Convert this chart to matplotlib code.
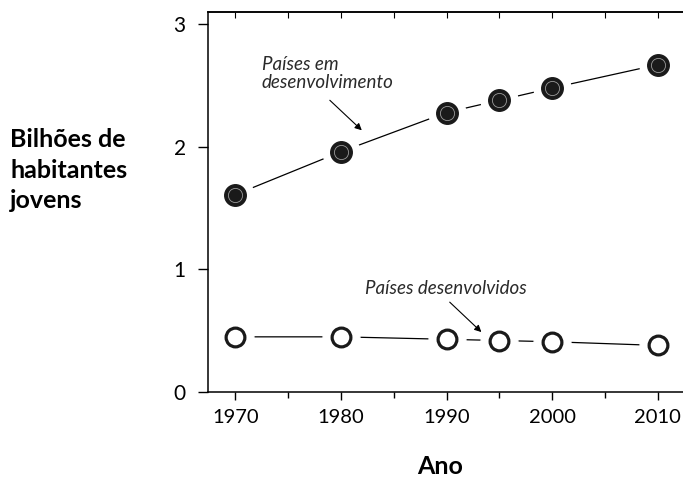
import matplotlib
matplotlib.use("Agg")
import matplotlib.pyplot as plt

years = [1970, 1980, 1990, 1995, 2000, 2010]
developing = [1.61, 1.96, 2.28, 2.38, 2.48, 2.67]
developed = [0.45, 0.45, 0.43, 0.42, 0.41, 0.38]
xtick_labels = ["1970", "1980", "1990", "2000", "2010"]
yticks = [0, 1, 2, 3]

plt.rcParams['font.family'] = ['Lato', 'DejaVu Sans']

fig = plt.figure(figsize=(6.83, 4.78), dpi=100)
ax = fig.add_axes([208/683, (478-392)/478, (683-208)/683, (392-12)/478])

ms = 15.5
ax.plot(years, developing, color='black', lw=0.9, zorder=1)
ax.plot(years, developed, color='black', lw=0.9, zorder=1)
ax.plot(years, developing, 'o', ms=ms + 11, color='white', mec='white', zorder=2)
ax.plot(years, developed, 'o', ms=ms + 11, color='white', mec='white', zorder=2)
ax.plot(years, developing, 'o', ms=ms, color='#1a1a1a', mec='#1a1a1a', zorder=3)
ax.plot(years, developing, 'o', ms=ms * 0.66, mfc='none', mec='#9a9a9a', mew=0.6, zorder=4)
ax.plot(years, developed, 'o', ms=ms - 2, mfc='white', mec='#1a1a1a', mew=2.3, zorder=3)

ax.set_xlim(1967.4, 2012.4)
ax.set_ylim(0, 3.1)
ax.set_xticks([1970, 1980, 1990, 2000, 2010])
ax.set_xticklabels(xtick_labels)
ax.set_xticks([1975, 1985, 1995, 2005], minor=True)
ax.set_yticks(yticks)
ax.set_yticklabels([str(v) for v in yticks])

for s in ['left', 'bottom', 'top']:
    ax.spines[s].set_linewidth(1.1)
ax.spines['right'].set_visible(False)
ax.tick_params(axis='both', which='both', direction='out', width=1.0, colors='black')
ax.tick_params(axis='x', which='major', length=6, labelsize=14.5, pad=6)
ax.tick_params(axis='x', which='minor', length=4)
ax.tick_params(axis='y', which='major', length=7, labelsize=15, pad=9)

ax2 = ax.secondary_xaxis('top')
ax2.set_xticks([1970, 1975, 1980, 1985, 1990, 1995, 2000, 2005, 2010])
ax2.tick_params(direction='in', length=4, width=0.8, labeltop=False)
ax2.spines['top'].set_linewidth(1.1)

fig.text(440/683, 1 - 467/478, "Ano", ha='center', va='center', fontsize=18, fontweight='bold')
fig.text(10/683, 1 - 170/478, "Bilhões de\nhabitantes\njovens", ha='left', va='center',
         fontsize=18, fontweight='bold', linespacing=1.4)

note_kw = dict(fontsize=13.5, style='italic', fontweight='normal', color='#2a2a2a')
ax.text(1972.5, 2.745, "Países em\ndesenvolvimento", ha='left', va='top', linespacing=1.1, **note_kw)
ax.annotate("", xy=(1981.97, 2.135), xytext=(1978.94, 2.38),
            arrowprops=dict(arrowstyle='-|>', color='black', lw=0.8, shrinkA=0, shrinkB=0,
                            mutation_scale=10))
ax.text(1982.3, 0.915, "Países desenvolvidos", ha='left', va='top', **note_kw)
ax.annotate("", xy=(1993.3, 0.489), xytext=(1990.3, 0.733),
            arrowprops=dict(arrowstyle='-|>', color='black', lw=0.8, shrinkA=0, shrinkB=0,
                            mutation_scale=10))

fig.savefig("out.png", dpi=100)
